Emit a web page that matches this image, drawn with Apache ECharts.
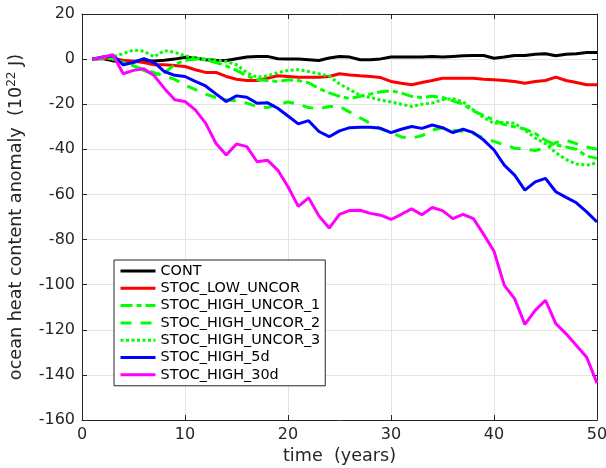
<!DOCTYPE html>
<html><head><meta charset="utf-8">
<script src="https://cdn.jsdelivr.net/npm/echarts@6/dist/echarts.min.js"></script>
<style>html,body{margin:0;padding:0;background:#fff}#c{width:606px;height:468px}</style>
</head><body><div id="c"></div>
<script>
const years = [1,2,3,4,5,6,7,8,9,10,11,12,13,14,15,16,17,18,19,20,21,22,23,24,25,26,27,28,29,30,31,32,33,34,35,36,37,38,39,40,41,42,43,44,45,46,47,48,49,50];
const seriesNames = ['CONT','STOC_LOW_UNCOR','STOC_HIGH_UNCOR_1','STOC_HIGH_UNCOR_2','STOC_HIGH_UNCOR_3','STOC_HIGH_5d','STOC_HIGH_30d'];
const xTicks = [0,10,20,30,40,50];
const yTicks = [-160,-140,-120,-100,-80,-60,-40,-20,0,20];

const cont = [0,0.3,-0.8,-1,-1,-0.8,-0.8,-0.5,0,0.8, 0.5,-0.3,-0.5,-0.6,0.2,0.9,1.2,1.2,0.2,0, 0,-0.3,-0.6,0.5,1.2,0.9,-0.3,-0.3,0.1,0.9, 0.9,0.9,0.9,1.2,0.9,1.2,1.5,1.6,1.6,0.4, 0.9,1.6,1.6,2.2,2.4,1.5,2.2,2.4,2.9,2.9];
const lowUncor = [0,0.3,0.3,-0.5,-1,-1.5,-2.5,-2.5,-2.8,-3.3, -4.7,-5.9,-5.9,-7.7,-8.9,-9.5,-9.5,-8.5,-7.4,-7.7, -8,-8,-8,-7.7,-6.5,-7,-7.4,-7.7,-8.2,-9.9, -10.7,-11.4,-10.4,-9.5,-8.5,-8.5,-8.5,-8.5,-8.9,-9.2, -9.5,-9.9,-10.7,-9.9,-9.5,-8,-9.5,-10.4,-11.4,-11.4];
const highUncor1 = [0,0.5,0,-1.5,-3,-5,-7,-6,-2.5,-0.5, 0,-0.3,-1.5,-3,-5,-7.5,-9,-9.5,-10,-9.2, -9.5,-10.5,-13,-15,-16.5,-17.5,-16.5,-15.5,-14.5,-14, -15,-16.5,-17,-16.5,-17,-18.5,-20,-23,-25,-27, -29,-30,-31,-33,-36,-38,-39,-40,-43,-44];
const highUncor2 = [0,0.5,0,-1.5,-3,-4.5,-6,-7.5,-9,-11.5, -13.5,-15.5,-17,-18,-18.5,-19.5,-21,-21.5,-20,-19, -20,-21.5,-22,-21,-21,-23.5,-26,-28.5,-31,-32.5, -34.5,-35,-34,-31.5,-30.5,-31.5,-32,-33,-35,-36.5, -38,-39.5,-40,-40.5,-39.5,-37,-36,-37.5,-39,-40];
const highUncor3 = [0,0.5,1,2.5,4,3.5,1,3.8,3,1.5, 0.5,0,-0.5,-1,-2.5,-6,-8,-7.5,-6,-5, -4.7,-5.5,-6.5,-7.5,-11,-13.5,-16,-17,-18.2,-19, -20,-21,-20,-19.5,-18,-17.5,-19,-22.5,-26,-28.5, -28,-28.5,-31.5,-35,-37.5,-41.5,-44.5,-46.5,-47,-46];
const high5d = [0,0.9,1.5,-2.5,-1.5,0.2,-1.5,-5.5,-7.2,-7.7, -9.9,-11.9,-15.4,-18.8,-16.3,-16.9,-19.6,-19.3,-21.8,-25.2, -28.7,-27.3,-32.1,-34.4,-31.8,-30.4,-30.2,-30.2,-30.7,-32.6, -31.1,-29.9,-30.7,-29.2,-30.4,-32.6,-31.1,-32.6,-35.9,-40.3, -47,-51.4,-58.1,-54.4,-52.9,-58.8,-61.3,-63.7,-67.7,-72.2];
const high30d = [0,0.8,1.9,-6.5,-5,-4.3,-7.3,-13,-18,-18.8, -22.5,-28.4,-37.3,-42.5,-37.6,-38.8,-45.5,-44.8,-49.2,-56.6, -65.3,-61.5,-69.5,-74.9,-68.8,-67.1,-67,-68.4,-69.2,-71.1, -68.8,-66.4,-69,-65.8,-67.2,-70.7,-68.8,-70.7,-77.7,-85.2, -100.3,-106.2,-117.6,-111.4,-106.9,-117.3,-121.8,-127,-132.2,-143.7];

const FONT = 'DejaVu Sans';
const AX = '#262626';
const GRIDC = '#e4e4e4';
function pairs(v){ return years.map((t,i)=>[t, v[i]]); }
const styles = [
  {color:'#000000', type:'solid'},
  {color:'#ff0000', type:'solid'},
  {color:'#00ff00', type:[12,4,5,4]},
  {color:'#00ff00', type:[11,9]},
  {color:'#00ff00', type:[3,2.5]},
  {color:'#0000ff', type:'solid'},
  {color:'#ff00ff', type:'solid'}
];
const values = [cont, lowUncor, highUncor1, highUncor2, highUncor3, high5d, high30d];

const chart = echarts.init(document.getElementById('c'), null, {renderer:'canvas'});
const xBase = {type:'value', min:xTicks[0], max:xTicks[xTicks.length-1], interval:10};
const yBase = {type:'value', min:yTicks[0], max:yTicks[yTicks.length-1], interval:20};
chart.setOption({
  animation:false,
  textStyle:{fontFamily:FONT},
  grid:{left:82, right:9, top:14, bottom:48, containLabel:false, outerBoundsMode:'none'},
  legend:{
    orient:'vertical', left:114, top:260, padding:[4,5,4,5],
    itemWidth:35, itemHeight:14, itemGap:3.3,
    backgroundColor:'#fff', borderColor:AX, borderWidth:1, borderRadius:0,
    textStyle:{fontSize:14.4, color:'#000', fontFamily:FONT},
    itemStyle:{opacity:0},
    lineStyle:{width:3},
    data:seriesNames
  },
  xAxis:[
    Object.assign({}, xBase, {
      position:'bottom',
      axisLine:{show:true, onZero:false, lineStyle:{color:AX, width:1}},
      axisTick:{show:true, inside:true, length:5, lineStyle:{color:AX}},
      axisLabel:{color:AX, fontSize:16, margin:7, fontFamily:FONT},
      splitLine:{show:true, lineStyle:{color:GRIDC, width:1}},
      name:'time  (years)', nameLocation:'middle', nameGap:26,
      nameTextStyle:{fontSize:17.6, color:AX, fontFamily:FONT}
    }),
    Object.assign({}, xBase, {
      position:'top',
      axisLine:{show:true, onZero:false, lineStyle:{color:AX, width:1}},
      axisTick:{show:true, inside:true, length:5, lineStyle:{color:AX}},
      axisLabel:{show:false}, splitLine:{show:false}
    })
  ],
  yAxis:[
    Object.assign({}, yBase, {
      position:'left',
      axisLine:{show:true, onZero:false, lineStyle:{color:AX, width:1}},
      axisTick:{show:true, inside:true, length:5, lineStyle:{color:AX}},
      axisLabel:{color:AX, fontSize:16, margin:7, fontFamily:FONT},
      splitLine:{show:true, lineStyle:{color:GRIDC, width:1}},
      name:'ocean heat content anomaly  (10{s|22} J)', nameLocation:'middle', nameGap:42,
      nameTextStyle:{fontSize:17.6, color:AX, fontFamily:FONT, lineHeight:22,
        rich:{s:{fontSize:12, color:AX, fontFamily:FONT, verticalAlign:'top', lineHeight:12}}}
    }),
    Object.assign({}, yBase, {
      position:'right',
      axisLine:{show:true, onZero:false, lineStyle:{color:AX, width:1}},
      axisTick:{show:true, inside:true, length:5, lineStyle:{color:AX}},
      axisLabel:{show:false}, splitLine:{show:false}
    })
  ],
  series: seriesNames.map((n,i)=>({
    name:n, type:'line', xAxisIndex:0, yAxisIndex:0,
    data:pairs(values[i]), symbol:'none', showSymbol:false,
    lineStyle:{color:styles[i].color, width:3, type:styles[i].type},
    itemStyle:{color:styles[i].color},
    z: 2 + i
  }))
});
</script></body></html>
